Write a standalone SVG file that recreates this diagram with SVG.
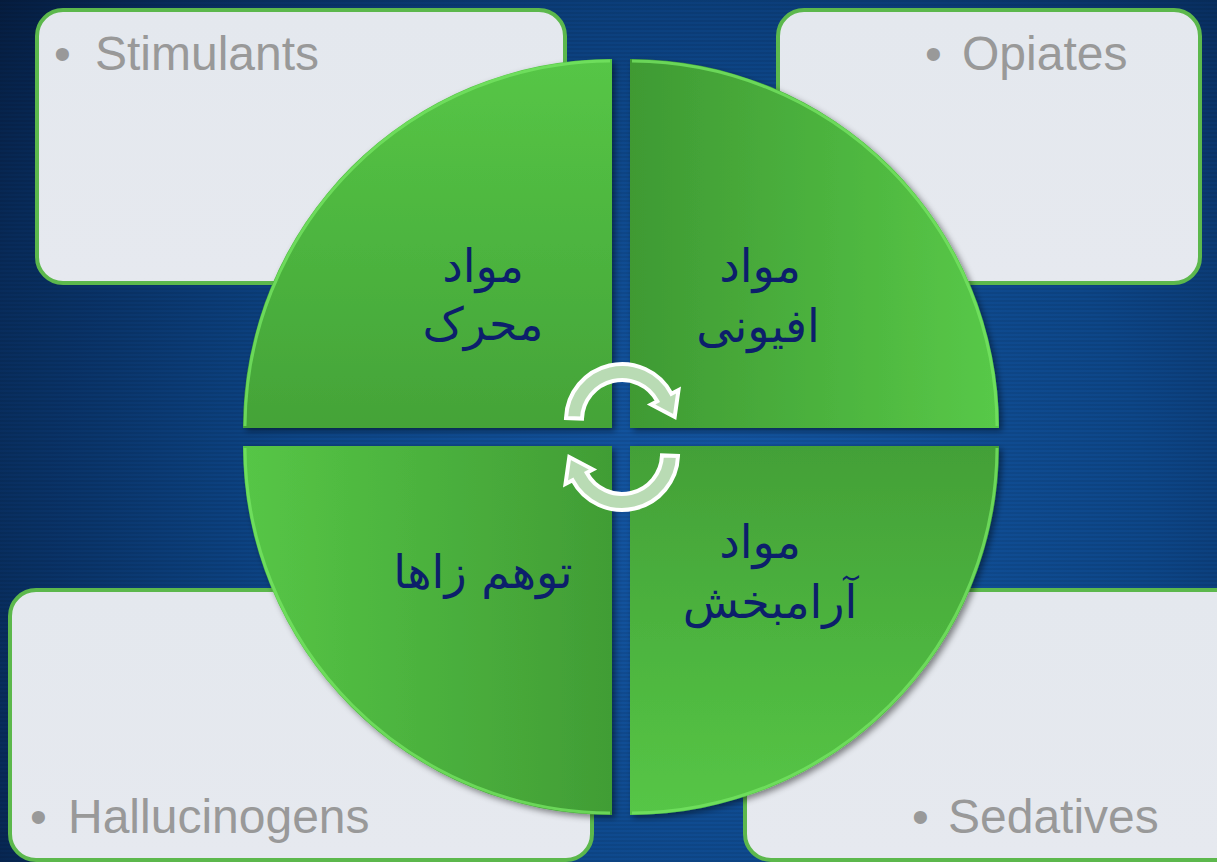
<svg xmlns="http://www.w3.org/2000/svg" width="1217" height="862" viewBox="0 0 1217 862">
  <defs>
    <radialGradient id="bgGrad" cx="720" cy="520" r="950" gradientUnits="userSpaceOnUse">
      <stop offset="0" stop-color="#1458a6"/>
      <stop offset="0.45" stop-color="#0d4688"/>
      <stop offset="0.8" stop-color="#082b5a"/>
      <stop offset="1" stop-color="#041633"/>
    </radialGradient>
    <pattern id="stripes" width="8" height="4" patternUnits="userSpaceOnUse">
      <rect width="8" height="2" fill="#000" fill-opacity="0.07"/>
    </pattern>
    <linearGradient id="boxGrad" x1="0" y1="0" x2="0" y2="1">
      <stop offset="0" stop-color="#e4e8ee"/>
      <stop offset="1" stop-color="#e6e9ef"/>
    </linearGradient>
    <linearGradient id="gTL" x1="0" y1="0" x2="0" y2="1">
      <stop offset="0" stop-color="#56c646"/>
      <stop offset="1" stop-color="#44a338"/>
    </linearGradient>
    <linearGradient id="gTR" x1="0" y1="0" x2="1" y2="0">
      <stop offset="0" stop-color="#3f9a33"/>
      <stop offset="1" stop-color="#58c948"/>
    </linearGradient>
    <linearGradient id="gBL" x1="0" y1="0" x2="1" y2="0">
      <stop offset="0" stop-color="#56c646"/>
      <stop offset="1" stop-color="#419d35"/>
    </linearGradient>
    <linearGradient id="gBR" x1="0" y1="0" x2="0" y2="1">
      <stop offset="0" stop-color="#43a037"/>
      <stop offset="1" stop-color="#56c646"/>
    </linearGradient>
    <filter id="shadow" x="-10%" y="-10%" width="125%" height="125%">
      <feDropShadow dx="3" dy="3" stdDeviation="3" flood-color="#000" flood-opacity="0.45"/>
    </filter>
    <style>
      .box { fill: url(#boxGrad); stroke: #5cb84c; stroke-width: 4; }
      .lbl { font-family: "Liberation Sans", Arial, sans-serif; font-size: 48px; fill: #999999; }
      .quad { filter: url(#shadow); }
      .hl { fill: none; stroke: #74e362; stroke-width: 3; stroke-opacity: 0.8; }
      .fa { font-family: "DejaVu Sans", sans-serif; font-size: 46px; fill: #0c1f6b; text-anchor: middle; direction: rtl; }
      .arrow { fill: #b9dbb4; stroke: #ffffff; stroke-width: 4; stroke-linejoin: miter; }
    </style>
  </defs>

  <g id="background">
    <rect width="1217" height="862" fill="url(#bgGrad)"/>
    <rect width="1217" height="862" fill="url(#stripes)"/>
  </g>

  <g id="box-stimulants">
    <rect class="box" x="37" y="10" width="528" height="273" rx="26"/>
    <text class="lbl" x="54" y="70">•</text>
    <text class="lbl" x="95" y="70">Stimulants</text>
  </g>
  <g id="box-opiates">
    <rect class="box" x="778" y="10" width="422" height="273" rx="26"/>
    <text class="lbl" x="925" y="70">•</text>
    <text class="lbl" x="962" y="70">Opiates</text>
  </g>
  <g id="box-hallucinogens">
    <rect class="box" x="10" y="590" width="582" height="270" rx="26"/>
    <text class="lbl" x="30" y="833">•</text>
    <text class="lbl" x="68" y="833">Hallucinogens</text>
  </g>
  <g id="box-sedatives">
    <rect class="box" x="745" y="590" width="500" height="270" rx="26"/>
    <text class="lbl" x="912" y="833">•</text>
    <text class="lbl" x="948" y="833">Sedatives</text>
  </g>

  <g id="quad-stimulants">
    <path class="quad" d="M612,428 L243,428 A369,369 0 0 1 612,59 Z" fill="url(#gTL)"/>
    <path class="hl" d="M245,426 A367,367 0 0 1 610,61"/>
    <text class="fa" x="483" y="282">مواد</text>
    <text class="fa" x="483" y="340">محرک</text>
  </g>
  <g id="quad-opiates">
    <path class="quad" d="M630,428 L630,59 A369,369 0 0 1 999,428 Z" fill="url(#gTR)"/>
    <path class="hl" d="M632,61 A367,367 0 0 1 997,426"/>
    <text class="fa" x="760" y="282">مواد</text>
    <text class="fa" x="758" y="342">افیونی</text>
  </g>
  <g id="quad-hallucinogens">
    <path class="quad" d="M612,446 L612,815 A369,369 0 0 1 243,446 Z" fill="url(#gBL)"/>
    <path class="hl" d="M610,813 A367,367 0 0 1 245,448"/>
    <text class="fa" x="483" y="588">توهم زاها</text>
  </g>
  <g id="quad-sedatives">
    <path class="quad" d="M630,446 L999,446 A369,369 0 0 1 630,815 Z" fill="url(#gBR)"/>
    <path class="hl" d="M997,448 A367,367 0 0 1 632,813"/>
    <text class="fa" x="760" y="558">مواد</text>
    <text class="fa" x="770" y="618">آرامبخش</text>
  </g>

  <g id="connectors">
    <path class="arrow" d="M566,418 A56,56 0 0 1 671.4,393.7 L678.5,390 L674.7,416.9 L651.1,404.5 L657.3,401.2 A40,40 0 0 0 582,418.6 Z"/>
    <path class="arrow" transform="rotate(180 622 437)" d="M566,418 A56,56 0 0 1 671.4,393.7 L678.5,390 L674.7,416.9 L651.1,404.5 L657.3,401.2 A40,40 0 0 0 582,418.6 Z"/>
  </g>
</svg>
